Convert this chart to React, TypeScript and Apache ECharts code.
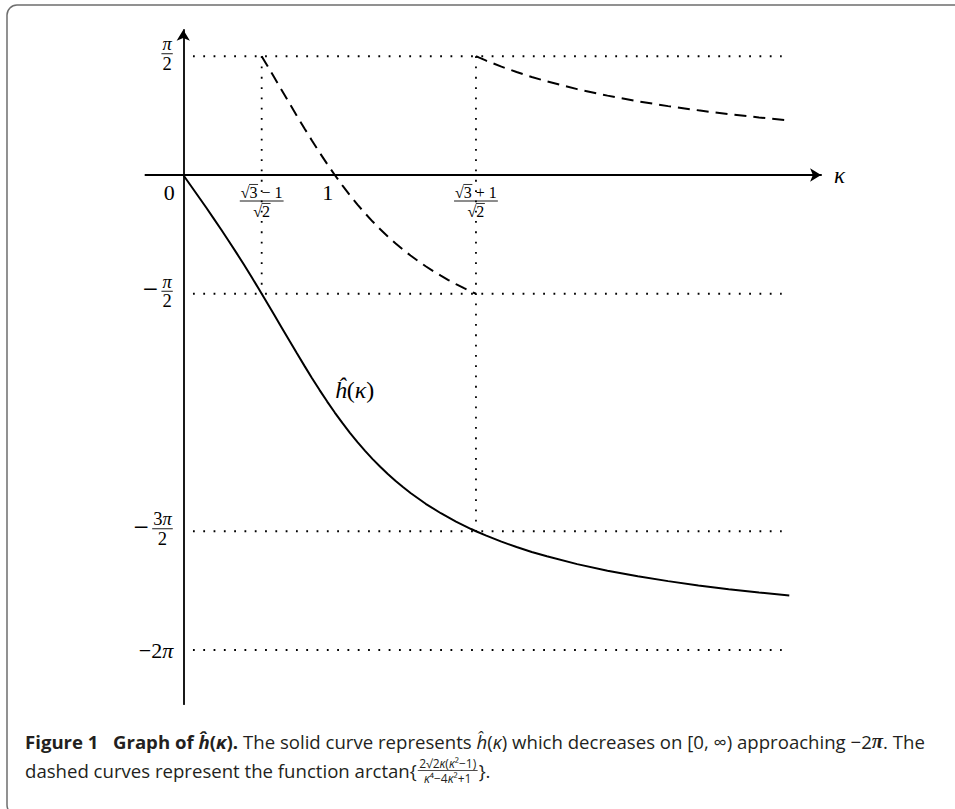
import React, { useEffect, useRef } from 'react';
import * as echarts from 'echarts';

const PI = Math.PI;

// Solid curve ĥ(κ)
const solidKappa = [0, 0.05, 0.1, 0.15, 0.2, 0.25, 0.3, 0.35, 0.4, 0.45, 0.5, 0.5176, 0.55, 0.6, 0.65, 0.7, 0.75, 0.8, 0.85, 0.9, 0.95, 1.0, 1.05, 1.1, 1.15, 1.2, 1.25, 1.3, 1.35, 1.4, 1.45, 1.5, 1.6, 1.7, 1.8, 1.9, 1.932, 2.0, 2.1, 2.2, 2.3, 2.4, 2.6, 2.8, 3.0, 3.2, 3.4, 3.6, 3.8, 4.0];
const solidValues = [0, -0.142, -0.284, -0.427, -0.573, -0.721, -0.873, -1.027, -1.185, -1.347, -1.512, -1.571, -1.68, -1.849, -2.02, -2.19, -2.359, -2.525, -2.688, -2.845, -2.997, -3.142, -3.279, -3.41, -3.533, -3.649, -3.758, -3.86, -3.955, -4.045, -4.128, -4.207, -4.349, -4.474, -4.585, -4.683, -4.712, -4.771, -4.85, -4.921, -4.986, -5.044, -5.147, -5.234, -5.308, -5.372, -5.429, -5.478, -5.522, -5.562];

// Dashed curve, middle branch
const dashMidKappa = [0.5176, 0.53, 0.55, 0.575, 0.6, 0.65, 0.7, 0.75, 0.8, 0.85, 0.9, 0.95, 1.0, 1.05, 1.1, 1.15, 1.2, 1.25, 1.3, 1.35, 1.4, 1.45, 1.5, 1.55, 1.6, 1.65, 1.7, 1.75, 1.8, 1.85, 1.9, 1.932];
const dashMidValues = [1.571, 1.529, 1.462, 1.377, 1.292, 1.122, 0.951, 0.782, 0.616, 0.454, 0.296, 0.145, 0, -0.138, -0.268, -0.392, -0.507, -0.616, -0.718, -0.814, -0.903, -0.987, -1.065, -1.138, -1.207, -1.272, -1.332, -1.39, -1.443, -1.494, -1.542, -1.571];

// Dashed curve, right branch
const dashRightKappa = [1.932, 1.95, 2.0, 2.1, 2.2, 2.3, 2.4, 2.6, 2.8, 3.0, 3.2, 3.4, 3.6, 3.8, 4.0];
const dashRightValues = [1.571, 1.555, 1.512, 1.433, 1.362, 1.297, 1.239, 1.136, 1.05, 0.975, 0.911, 0.855, 0.805, 0.761, 0.721];

// Tick labels
const xTickValues = [0, 0.5176, 1, 1.9319];
const xTickNumerators = ['0', '√3 − 1', '1', '√3 + 1'];
const xTickDenominators = ['', '√2', '', '√2'];
const yTickValues = [PI / 2, -PI / 2, (-3 * PI) / 2, -2 * PI];
const yTickSigns = ['', '−', '−', ''];
const yTickNumerators = ['{i|π}', '{i|π}', '3{i|π}', '−2{i|π}'];
const yTickDenominators = ['2', '2', '2', ''];

// Dotted guides
const guideSpan = [0.064, 3.95];
const verticalGuideKappa = [0.5176, 1.9319];
const verticalGuideTop = [PI / 2, PI / 2];
const verticalGuideBottom = [-PI / 2, (-3 * PI) / 2];

const curveLabel = '{i|ĥ}({i|κ})';
const curveLabelAt = [1.0, -2.84];

const MATH = '"Liberation Serif", "DejaVu Serif", serif';
const CAP = '"Open Sans", "Noto Sans", sans-serif';
const CAP_COLOR = '#231f20';

let mctx: CanvasRenderingContext2D | null = null;
const plain = (s: string) => s.replace(/\{[a-z]+\|([^}]*)\}/g, '$1');
function measure(text: string, font: string): number {
  if (!mctx) mctx = document.createElement('canvas').getContext('2d');
  if (!mctx) return text.length * 8;
  mctx.font = font;
  return mctx.measureText(plain(text)).width;
}

function txt(s: string, x: number, y: number, fs: number, align: string) {
  return {
    type: 'text',
    x,
    y,
    style: {
      text: s,
      fontSize: fs,
      fontFamily: MATH,
      fill: '#000',
      align,
      verticalAlign: 'middle',
      textAlign: align,
      textVerticalAlign: 'middle',
      rich: { i: { fontStyle: 'italic', fontFamily: MATH, fontSize: fs, fill: '#000' } },
    },
  };
}

// overline over the radicand of a "√x" inside a centered text
function overline(s: string, cx: number, cy: number, fs: number): any[] {
  const p = plain(s);
  const k = p.indexOf('√');
  if (k < 0) return [];
  const font = `${fs}px ${MATH}`;
  const W = measure(p, font);
  const left = cx - W / 2;
  const x1 = left + measure(p.slice(0, k + 1), font) - 0.5;
  const x2 = left + measure(p.slice(0, k + 2), font) + 0.5;
  const y = cy - 0.47 * fs;
  return [{ type: 'line', shape: { x1, y1: y, x2, y2: y }, style: { stroke: '#000', lineWidth: 0.8 } }];
}

function frac(num: string, den: string, cx: number, bar: number, fs: number, numOff: number, denOff: number) {
  const font = `${fs}px ${MATH}`;
  const w = Math.max(measure(num, font), measure(den, font)) + 2;
  return {
    w,
    els: [
      txt(num, cx, bar - numOff, fs, 'center'),
      ...overline(num, cx, bar - numOff, fs),
      { type: 'line', shape: { x1: cx - w / 2, y1: bar, x2: cx + w / 2, y2: bar }, style: { stroke: '#000', lineWidth: 0.9 } },
      txt(den, cx, bar + denOff, fs, 'center'),
      ...overline(den, cx, bar + denOff, fs),
    ],
  };
}

const renderYTick = (params: any, api: any) => {
  const i = params.dataIndex;
  const p = api.coord([api.value(0), api.value(1)]);
  const right = p[0] - 10;
  const fs = 18.5;
  const font = `${fs}px ${MATH}`;
  const children: any[] = [];
  const den = yTickDenominators[i];
  if (den) {
    const num = yTickNumerators[i];
    const w = Math.max(measure(num, font), measure(den, font)) + 3;
    const cx = right - w / 2;
    const bar = p[1] - 2.5;
    const f = frac(num, den, cx, bar, fs, 9.3, 10.2);
    children.push(...f.els);
    if (yTickSigns[i]) children.push(txt(yTickSigns[i], cx - w / 2 - 3, bar - 2, 27, 'right'));
  } else {
    children.push(txt(yTickNumerators[i], right, p[1], 22, 'right'));
  }
  return { type: 'group', children };
};

const renderXTick = (params: any, api: any) => {
  const i = params.dataIndex;
  const p = api.coord([api.value(0), api.value(1)]);
  const children: any[] = [];
  const den = xTickDenominators[i];
  if (den) {
    const bar = p[1] + 26;
    const f = frac(xTickNumerators[i], den, p[0], bar, 16, 9, 10);
    children.push(...f.els);
  } else {
    const dx = i === 0 ? -14 : -7;
    children.push(txt(xTickNumerators[i], p[0] + dx, p[1] + 17, 22, 'center'));
  }
  return { type: 'group', children };
};

const renderCurveLabel = (params: any, api: any) => {
  const p = api.coord([api.value(0), api.value(1)]);
  return { type: 'group', children: [txt(curveLabel, p[0], p[1], 24, 'left')] };
};

function buildCaption(): any[] {
  const fs = 18.6;
  const font = `${fs}px ${CAP}`;
  const line1 = {
    type: 'text',
    x: 25,
    y: 741,
    style: {
      text: '{b|Figure 1   Graph of }{bi|ĥ}{b|(}{bi|κ}{b|).} The solid curve represents {i|ĥ}({i|κ}) which decreases on [0, ∞) approaching −2{pi|π}. The',
      fontSize: fs,
      fontFamily: CAP,
      fill: CAP_COLOR,
      verticalAlign: 'middle',
      textVerticalAlign: 'middle',
      rich: {
        b: { fontWeight: 'bold', fontSize: fs, fontFamily: CAP, fill: CAP_COLOR },
        bi: { fontWeight: 'bold', fontStyle: 'italic', fontSize: fs, fontFamily: CAP, fill: CAP_COLOR },
        i: { fontStyle: 'italic', fontSize: fs, fontFamily: CAP, fill: CAP_COLOR },
        pi: { fontWeight: 'bold', fontStyle: 'italic', fontSize: fs + 2, fontFamily: MATH, fill: CAP_COLOR },
      },
    },
  };
  const prefix = 'dashed curves represent the function arctan{';
  const pw = measure(prefix, font);
  const line2a = {
    type: 'text',
    x: 25,
    y: 770,
    style: { text: prefix, fontSize: fs, fontFamily: CAP, fill: CAP_COLOR, verticalAlign: 'middle', textVerticalAlign: 'middle' },
  };
  const sf = 12;
  const sfont = `${sf}px ${CAP}`;
  const numS = '2√2κ(κ²−1)';
  const denS = 'κ⁴−4κ²+1';
  const fw = Math.max(measure(numS, sfont), measure(denS, sfont)) + 2;
  const cx = 25 + pw + 1 + fw / 2;
  const richS = { i: { fontStyle: 'italic', fontSize: sf, fontFamily: CAP, fill: CAP_COLOR } };
  const fnum = {
    type: 'text',
    x: cx,
    y: 763,
    style: { text: '2√2{i|κ}({i|κ}²−1)', fontSize: sf, fontFamily: CAP, fill: CAP_COLOR, align: 'center', textAlign: 'center', verticalAlign: 'middle', textVerticalAlign: 'middle', rich: richS },
  };
  const fbar = { type: 'line', shape: { x1: cx - fw / 2, y1: 770.5, x2: cx + fw / 2, y2: 770.5 }, style: { stroke: CAP_COLOR, lineWidth: 0.8 } };
  const fden = {
    type: 'text',
    x: cx,
    y: 778.5,
    style: { text: '{i|κ}⁴−4{i|κ}²+1', fontSize: sf, fontFamily: CAP, fill: CAP_COLOR, align: 'center', textAlign: 'center', verticalAlign: 'middle', textVerticalAlign: 'middle', rich: richS },
  };
  const line2b = {
    type: 'text',
    x: cx + fw / 2 + 1,
    y: 770,
    style: { text: '}.', fontSize: fs, fontFamily: CAP, fill: CAP_COLOR, verticalAlign: 'middle', textVerticalAlign: 'middle' },
  };
  const frame = {
    type: 'rect',
    shape: { x: 7, y: 5, width: 1000, height: 810, r: 10 },
    style: { fill: 'none', stroke: '#6e6e6e', lineWidth: 1.5 },
    silent: true,
  };
  return [frame, line1, line2a, fnum, fbar, fden, line2b];
}

const zip = (a: number[], b: number[]) => a.map((v, i) => [v, b[i]]);

export default function App() {
  const ref = useRef<HTMLDivElement>(null);
  useEffect(() => {
    if (!ref.current) return;
    const chart = echarts.init(ref.current, null, { renderer: 'svg' });
    const dotted = { color: '#000', width: 1.8, type: [1.8, 8.5] as any, cap: 'butt' as any };
    const guideSeries: any[] = [];
    yTickValues.forEach((v) => {
      guideSeries.push({
        type: 'line',
        data: [[guideSpan[0], v], [guideSpan[1], v]],
        showSymbol: false,
        silent: true,
        lineStyle: dotted,
        z: 1,
      });
    });
    verticalGuideKappa.forEach((k, i) => {
      guideSeries.push({
        type: 'line',
        data: [[k, verticalGuideTop[i]], [k, verticalGuideBottom[i]]],
        showSymbol: false,
        silent: true,
        lineStyle: dotted,
        z: 1,
      });
    });
    const axisCommon = {
      type: 'value',
      axisTick: { show: false },
      axisLabel: { show: false },
      splitLine: { show: false },
    };
    const curveStyle = { color: '#000', width: 2 };
    chart.setOption({
      animation: false,
      backgroundColor: '#fff',
      grid: { left: 145.4, top: 29.85, width: 675.7, height: 674.35, containLabel: false },
      xAxis: {
        ...axisCommon,
        min: -0.25,
        max: 4.21,
        axisLine: { show: true, onZero: true, symbol: ['none', 'arrow'], symbolSize: [10, 11], lineStyle: { color: '#000', width: 1.8 } },
        name: 'κ',
        nameLocation: 'end',
        nameGap: 13,
        nameTextStyle: { fontFamily: MATH, fontStyle: 'italic', fontSize: 23, color: '#000' },
      },
      yAxis: {
        ...axisCommon,
        min: -7,
        max: 1.92,
        axisLine: { show: true, onZero: true, symbol: ['none', 'arrow'], symbolSize: [10, 11], lineStyle: { color: '#000', width: 1.8 } },
      },
      series: [
        ...guideSeries,
        {
          type: 'line',
          data: zip(solidKappa, solidValues),
          showSymbol: false,
          smooth: false,
          silent: true,
          lineStyle: curveStyle,
          z: 3,
        },
        {
          type: 'line',
          data: zip(dashMidKappa, dashMidValues),
          showSymbol: false,
          smooth: false,
          silent: true,
          lineStyle: { ...curveStyle, type: [12, 7] },
          z: 3,
        },
        {
          type: 'line',
          data: zip(dashRightKappa, dashRightValues),
          showSymbol: false,
          smooth: false,
          silent: true,
          lineStyle: { ...curveStyle, type: [12, 7] },
          z: 3,
        },
        {
          type: 'custom',
          data: xTickValues.map((v) => [v, 0]),
          renderItem: renderXTick,
          silent: true,
          clip: false,
          z: 5,
        },
        {
          type: 'custom',
          data: yTickValues.map((v) => [0, v]),
          renderItem: renderYTick,
          silent: true,
          clip: false,
          z: 5,
        },
        {
          type: 'custom',
          data: [curveLabelAt],
          renderItem: renderCurveLabel,
          silent: true,
          clip: false,
          z: 5,
        },
      ],
      graphic: buildCaption(),
    });
    return () => chart.dispose();
  }, []);
  return <div ref={ref} style={{ position: 'fixed', left: 0, top: 0, width: 955, height: 809, background: '#fff' }} />;
}
